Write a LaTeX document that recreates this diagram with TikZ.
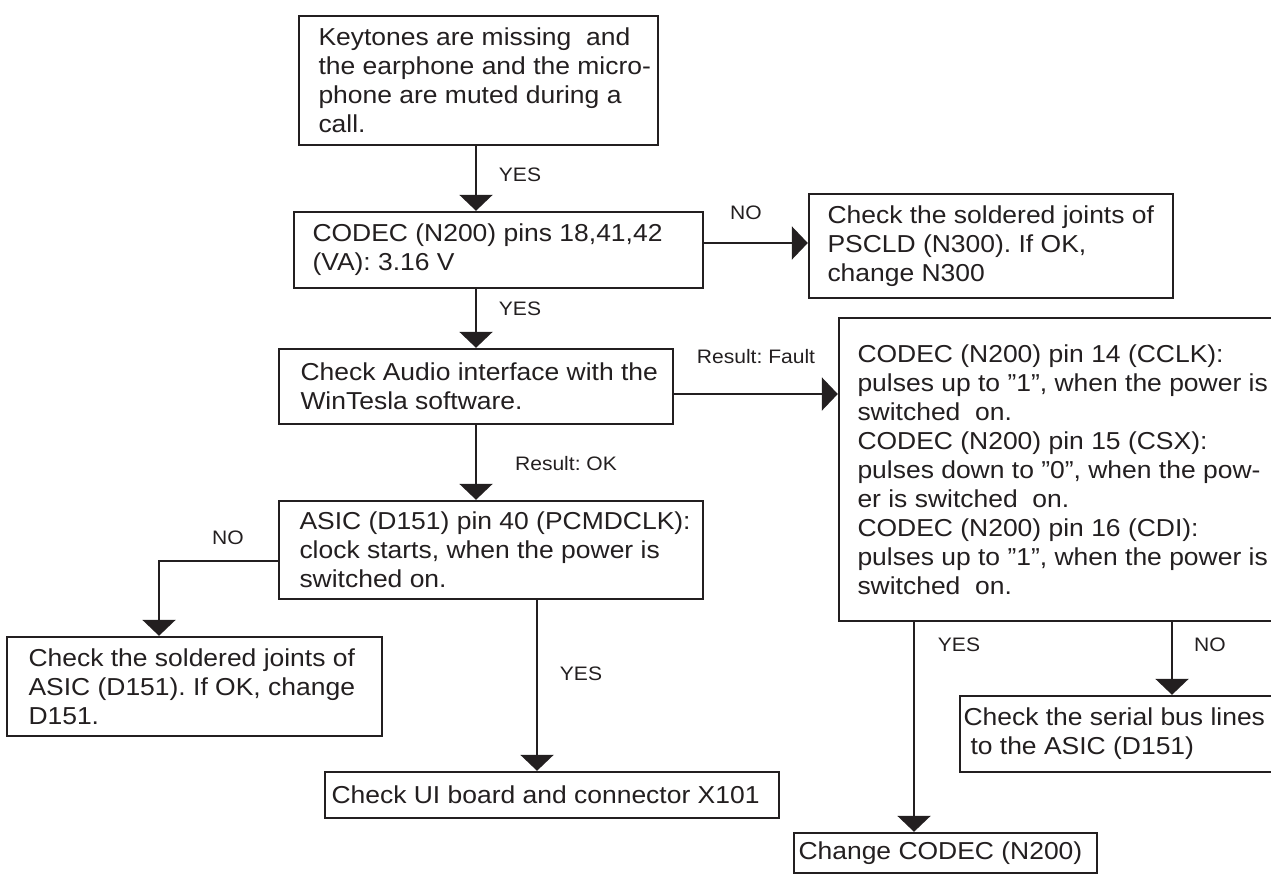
\documentclass[tikz,border=0pt]{standalone}
\usepackage{fontspec}
\setmainfont[FakeStretch=1.08]{Liberation Sans}
\usetikzlibrary{arrows.meta}
\definecolor{ink}{HTML}{231F20}
\frenchspacing
\begin{document}
\begin{tikzpicture}[x=1pt,y=-1pt,
  box/.style={draw=ink, line width=2.4pt, fill=white, inner sep=0pt, rectangle},
  txt/.style={align=left, inner sep=0pt, text=ink, anchor=west,
    font=\fontsize{24.5}{29}\selectfont},
  lbl/.style={inner sep=0pt, text=ink, font=\fontsize{19.5}{23}\selectfont},
  conn/.style={draw=ink, line width=2.4pt,
    -{Triangle[width=33pt,length=16pt]}}]
\useasboundingbox (0,0) rectangle (1271,876);
\clip (0,0) rectangle (1271,876);

% flow columns and rows
\coordinate (colA) at (476,0);
\coordinate (colB) at (537,0);
\coordinate (colC) at (914,0);
\coordinate (colD) at (1172,0);
\coordinate (colE) at (159,0);
\coordinate (rowA) at (0,243);
\coordinate (rowB) at (0,394);
\coordinate (rowC) at (0,561);

% boxes
\node[box, minimum width=359, minimum height=129] (b1) at (478.5,80.5) {};
\node[box, minimum width=409, minimum height=76]  (b2) at (498.5,250) {};
\node[box, minimum width=364, minimum height=104] (b3) at (991,246) {};
\node[box, minimum width=394, minimum height=75]  (b4) at (476,386.5) {};
\node[box, minimum width=461, minimum height=303] (b5) at (1069.5,469.5) {};
\node[box, minimum width=375, minimum height=99]  (b6) at (194.5,686.5) {};
\node[box, minimum width=424, minimum height=98]  (b7) at (491,550) {};
\node[box, minimum width=340, minimum height=76]  (b8) at (1130,734) {};
\node[box, minimum width=454, minimum height=46]  (b9) at (552,795) {};
\node[box, minimum width=303, minimum height=40]  (b10) at (945.5,853) {};

% box texts
\node[txt] (t1) at ([xshift=20.5pt]b1.west) {Keytones are missing\ \ and\\the earphone and the micro-\\phone are muted during a\\call.};
\node[txt] (t2) at ([xshift=19.5pt]b2.west) {CODEC (N200) pins 18,41,42\\(VA): 3.16 V};
\node[txt] (t3) at ([xshift=19.5pt]b3.west) {Check the soldered joints of\\PSCLD (N300). If OK,\\change N300};
\node[txt] (t4) at ([xshift=22.5pt]b4.west) {Check Audio interface with the\\WinTesla software.};
\node[txt] (t5) at ([xshift=19.5pt]b5.west) {CODEC (N200) pin 14 (CCLK):\\pulses up to ”1”, when the power is\\switched\ \ on.\\CODEC (N200) pin 15 (CSX):\\pulses down to ”0”, when the pow-\\er is switched\ \ on.\\CODEC (N200) pin 16 (CDI):\\pulses up to ”1”, when the power is\\switched\ \ on.};
\node[txt] (t6) at ([xshift=22.5pt]b6.west) {Check the soldered joints of\\ASIC (D151). If OK, change\\D151.};
\node[txt] (t7) at ([xshift=21.5pt]b7.west) {ASIC (D151) pin 40 (PCMDCLK):\\clock starts, when the power is\\switched on.};
\node[txt] (t8) at ([xshift=4.5pt]b8.west) {Check the serial bus lines\\\hspace*{7pt}to the ASIC (D151)};
\node[txt] (t9) at ([xshift=7.5pt]b9.west) {Check UI board and connector X101};
\node[txt] (t10) at ([xshift=5.5pt]b10.west) {Change CODEC (N200)};

% connectors
\draw[conn] (b1.south -| colA) -- (b2.north -| colA);
\draw[conn] (b2.south -| colA) -- (b4.north -| colA);
\draw[conn] (b4.south -| colA) -- (b7.north -| colA);
\draw[conn] (b2.east |- rowA) -- (b3.west |- rowA);
\draw[conn] (b4.east |- rowB) -- (b5.west |- rowB);
\draw[conn] (b7.west |- rowC) -| (b6.north -| colE);
\draw[conn] (b7.south -| colB) -- (b9.north -| colB);
\draw[conn] (b5.south -| colC) -- (b10.north -| colC);
\draw[conn] (b5.south -| colD) -- (b8.north -| colD);

% connector labels
\node[lbl] (l1) at (520,175) {YES};
\node[lbl] (l2) at (520,309) {YES};
\node[lbl] (l3) at (746,213) {NO};
\node[lbl] (l4) at (756,357) {Result: Fault};
\node[lbl] (l5) at (566,464) {Result: OK};
\node[lbl] (l6) at (228,538) {NO};
\node[lbl] (l7) at (581,674) {YES};
\node[lbl] (l8) at (959,645) {YES};
\node[lbl] (l9) at (1210,645) {NO};
\end{tikzpicture}
\end{document}
